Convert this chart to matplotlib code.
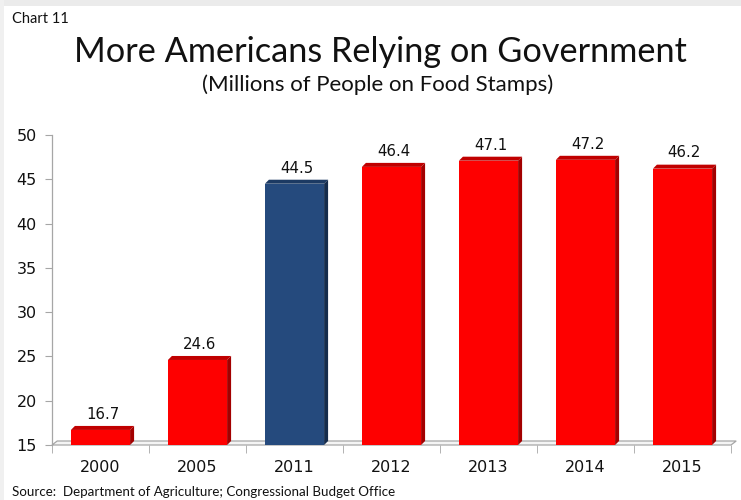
import numpy as np
import matplotlib
matplotlib.use("Agg")
import matplotlib.pyplot as plt
from matplotlib.patches import Polygon, Rectangle

# Food stamp participation, millions of people
years = ["2000", "2005", "2011", "2012", "2013", "2014", "2015"]
people = [16.7, 24.6, 44.5, 46.4, 47.1, 47.2, 46.2]
highlight = "2011"

y_min, y_max = 15, 50
y_ticks = [15, 20, 25, 30, 35, 40, 45, 50]

RED = ("#fe0000", "#c00000", "#a30000")
BLUE = ("#254a7d", "#1c3a63", "#152c4c")

fig = plt.figure(figsize=(7.41, 5.0), dpi=100)
fig.patch.set_facecolor("white")
ax = fig.add_axes([52 / 741, 55 / 500, 679 / 741, 310 / 500])

x = np.arange(len(years))
width = 0.61
vals = np.array(people)

# depth of the pseudo-3D effect, 4 px converted to data units
dx = 4 / 97
dy = 4 / (310 / (y_max - y_min))

# floor
floor = Polygon([(-0.5, y_min), (6.5, y_min), (6.5 + dx * 1.3, y_min + dy),
                 (-0.5 + dx * 1.3, y_min + dy)], closed=True,
                facecolor="#f4f4f4", edgecolor="#a6a6a6", lw=0.9,
                clip_on=False, zorder=1)
ax.add_patch(floor)

for xi, yr, v in zip(x, years, vals):
    front, top, side = BLUE if yr == highlight else RED
    left, right = xi - width / 2, xi + width / 2
    ax.bar(xi, v - y_min, bottom=y_min, width=width, color=front,
           edgecolor="none", zorder=3)
    ax.add_patch(Polygon([(left, v), (right, v), (right + dx, v + dy),
                          (left + dx, v + dy)], closed=True,
                         facecolor=top, edgecolor="none", zorder=3, clip_on=False))
    ax.add_patch(Polygon([(right, y_min), (right, v), (right + dx, v + dy),
                          (right + dx, y_min + dy)], closed=True,
                         facecolor=side, edgecolor="none", zorder=3, clip_on=False))
    ax.annotate(f"{v:.1f}", (xi + dx / 2, v + dy), xytext=(0, 3),
                textcoords="offset points", ha="center", va="bottom",
                fontsize=10.8, color="#111111", zorder=4)

ax.set_xlim(-0.5, 6.5)
ax.set_ylim(y_min, y_max)
ax.set_yticks(y_ticks)
ax.set_xticks(x)
ax.set_xticklabels(years)
ax.set_xticks(np.arange(-0.5, 7, 1), minor=True)

for s in ["top", "right", "bottom"]:
    ax.spines[s].set_visible(False)
ax.spines["left"].set_color("#a6a6a6")
ax.spines["left"].set_linewidth(0.9)

ax.tick_params(axis="y", length=5, color="#a6a6a6", labelsize=11.5,
               labelcolor="#111111", pad=6)
ax.tick_params(axis="x", which="major", length=0, labelsize=11.5,
               labelcolor="#111111", pad=11)
ax.tick_params(axis="x", which="minor", length=6, color="#a6a6a6")

# light grey frame strips along the top and left edge
fig.patches.append(Rectangle((0, 494 / 500), 1, 6 / 500, transform=fig.transFigure,
                             facecolor="#ebebeb", edgecolor="none"))
fig.patches.append(Rectangle((0, 0), 4 / 741, 1, transform=fig.transFigure,
                             facecolor="#f0f0f0", edgecolor="none"))

fig.text(12 / 741, 1 - 19 / 500, "Chart 11", fontsize=10.5, family="Lato",
         va="center", ha="left", color="#111111")
fig.text(380 / 741, 1 - 52 / 500, "More Americans Relying on Government",
         fontsize=24.7, family="Lato", ha="center", va="center", color="#111111")
fig.text(378 / 741, 1 - 85 / 500, "(Millions of People on Food Stamps)",
         fontsize=16, family="Lato", ha="center", va="center", color="#111111")
fig.text(12 / 741, 1 - 492 / 500,
         "Source:  Department of Agriculture; Congressional Budget Office",
         fontsize=9.6, family="Lato", ha="left", va="center", color="#111111")

fig.savefig("out.png", dpi=100)
